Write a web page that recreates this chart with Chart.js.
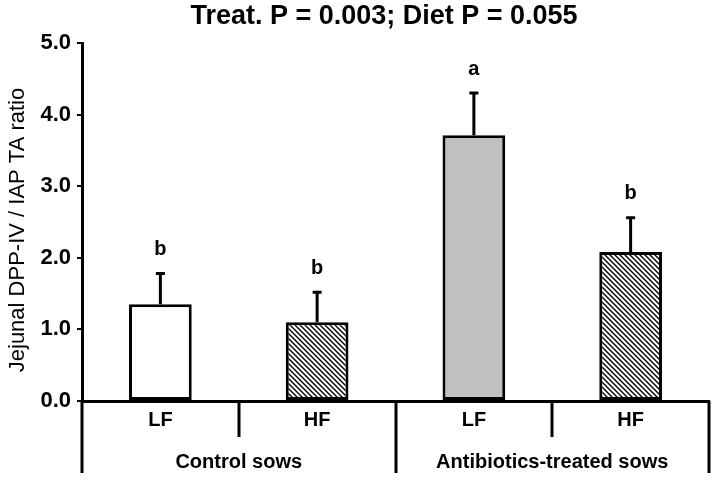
<!DOCTYPE html>
<html>
<head>
<meta charset="utf-8">
<script src="https://cdn.jsdelivr.net/npm/chart.js@4.4.0/dist/chart.umd.min.js"></script>
<style>
  html, body { margin: 0; padding: 0; background: #fff; }
  #wrap { width: 716px; height: 480px; position: relative; }
</style>
</head>
<body>
<div id="wrap"><canvas id="chart"></canvas></div>
<script>
// data
const dietLabels = ["LF", "HF", "LF", "HF"];
const groupLabels = ["Control sows", "Antibiotics-treated sows"];
const means = [1.35, 1.10, 3.71, 2.08];
const sem = [0.43, 0.42, 0.59, 0.48];
const letters = ["b", "b", "a", "b"];
const titleText = "Treat. P = 0.003; Diet P = 0.055";
const yTitle = "Jejunal DPP-IV / IAP TA ratio";

const FONT = '"Liberation Sans", Arial, sans-serif';

function hatch() {
    const s = 5;
    const c = document.createElement("canvas");
    c.width = s;
    c.height = s;
    const g = c.getContext("2d");
    g.fillStyle = "#fff";
    g.fillRect(0, 0, s, s);
    g.strokeStyle = "#000";
    g.lineWidth = 1.4;
    g.beginPath();
    g.moveTo(-1, -1); g.lineTo(s + 1, s + 1);
    g.moveTo(s - 1, -1); g.lineTo(s + 1, 1);
    g.moveTo(-1, s - 1); g.lineTo(1, s + 1);
    g.stroke();
    return g.createPattern(c, "repeat");
}
const stripes = hatch();

const decor = {
    id: "decor",
    afterDraw(chart) {
        const { ctx, chartArea, scales } = chart;
        const x = scales.x, y = scales.y;
        const meta = chart.getDatasetMeta(0);
        ctx.save();

        // error bars (upper only) and letters
        ctx.strokeStyle = "#000";
        ctx.fillStyle = "#000";
        ctx.lineWidth = 3;
        meta.data.forEach((bar, i) => {
            const top = y.getPixelForValue(means[i] + sem[i]);
            const base = y.getPixelForValue(means[i]);
            ctx.beginPath();
            ctx.moveTo(bar.x, base);
            ctx.lineTo(bar.x, top);
            ctx.moveTo(bar.x - 4.5, top);
            ctx.lineTo(bar.x + 4.5, top);
            ctx.stroke();
            ctx.font = "bold 20px " + FONT;
            ctx.textAlign = "center";
            ctx.textBaseline = "middle";
            ctx.fillText(letters[i], bar.x, top - 24);
        });

        // category dividers below the x axis
        const step = x.width / dietLabels.length;
        ctx.lineWidth = 3;
        for (let i = 0; i <= dietLabels.length; i++) {
            const px = Math.round(chartArea.left + i * step);
            const long = i % 2 === 0;
            ctx.beginPath();
            ctx.moveTo(px, chartArea.bottom);
            ctx.lineTo(px, long ? 473 : 437);
            ctx.stroke();
        }

        ctx.font = "bold 20px " + FONT;
        ctx.textAlign = "center";
        ctx.textBaseline = "middle";
        dietLabels.forEach((lab, i) => {
            ctx.fillText(lab, x.getPixelForValue(i), 420);
        });
        groupLabels.forEach((lab, i) => {
            const cx = (x.getPixelForValue(i * 2) + x.getPixelForValue(i * 2 + 1)) / 2;
            ctx.fillText(lab, cx, 462);
        });

        // title
        ctx.font = "bold 27px " + FONT;
        ctx.fillText(titleText, 384, 17);

        // y axis title
        ctx.translate(18, (chartArea.top + chartArea.bottom) / 2 + 8);
        ctx.rotate(-Math.PI / 2);
        ctx.font = "22px " + FONT;
        ctx.fillText(yTitle, 0, 0);
        ctx.restore();
    }
};

new Chart(document.getElementById("chart"), {
    type: "bar",
    data: {
        labels: dietLabels,
        datasets: [
            {
                data: means,
                backgroundColor: ["#ffffff", stripes, "#c0c0c0", stripes],
                borderColor: "#000",
                borderWidth: 3,
                borderSkipped: false,
                categoryPercentage: 1,
                barPercentage: 0.4,
            },
        ],
    },
    options: {
        responsive: true,
        maintainAspectRatio: false,
        animation: false,
        layout: { padding: { top: 43, right: 7, left: 0, bottom: 0 } },
        plugins: { legend: { display: false }, tooltip: { enabled: false } },
        scales: {
            x: {
                grid: { display: false },
                ticks: { display: false },
                border: { color: "#000", width: 3 },
                afterFit: (s) => { s.height = 79; },
            },
            y: {
                min: 0,
                max: 5,
                ticks: {
                    stepSize: 1,
                    color: "#000",
                    padding: 6,
                    font: { family: FONT, size: 22, weight: "bold" },
                    callback: (v) => v.toFixed(1),
                },
                grid: { drawOnChartArea: false, color: "#000", lineWidth: 2, tickLength: 5 },
                border: { color: "#000", width: 3 },
                afterFit: (s) => { s.width = 82; },
            },
        },
    },
    plugins: [decor],
});
</script>
</body>
</html>
